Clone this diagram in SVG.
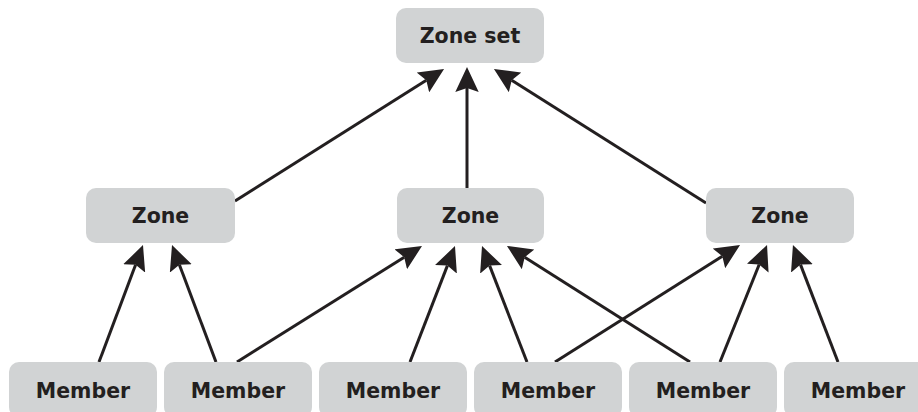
<svg xmlns="http://www.w3.org/2000/svg" width="918" height="412" viewBox="0 0 918 412">
<style>
.box{fill:#d1d3d4}
.lbl{font-family:"DejaVu Sans",Verdana,sans-serif;font-weight:bold;font-size:20.5px;fill:#231f20;text-anchor:middle;dominant-baseline:central}
.edge{stroke:#231f20;stroke-width:3;fill:none}
</style>
<defs>
<marker id="ah" markerUnits="userSpaceOnUse" markerWidth="26" markerHeight="24" viewBox="0 0 26 24" refX="4" refY="12" orient="auto">
<path d="M0,0.3 L25,12 L0,23.7 L4,12 Z" fill="#231f20"/>
</marker>
</defs>
<rect width="918" height="412" fill="#fff"/>
<g id="connectors" class="edge" marker-end="url(#ah)">
<line x1="99" y1="362" x2="135.6" y2="264.7"/>
<line x1="216" y1="362" x2="179.4" y2="264.7"/>
<line x1="237" y1="362" x2="404.2" y2="257.2"/>
<line x1="410" y1="362" x2="447.4" y2="265.6"/>
<line x1="527" y1="362" x2="489.6" y2="265.6"/>
<line x1="690" y1="362" x2="524.7" y2="257.2"/>
<line x1="555" y1="362" x2="722.3" y2="256.2"/>
<line x1="720" y1="362" x2="759.2" y2="264.5"/>
<line x1="838" y1="362" x2="800.5" y2="264.6"/>
<line x1="235" y1="201" x2="426.3" y2="80.3"/>
<line x1="467" y1="188" x2="467" y2="88"/>
<line x1="706" y1="203" x2="511.7" y2="80.2"/>
</g>
<g id="zoneset"><rect class="box" x="396" y="8" width="148" height="55" rx="10"/><text class="lbl" x="470" y="36">Zone set</text></g>
<g id="zone1"><rect class="box" x="86" y="188" width="149" height="55" rx="10"/><text class="lbl" x="160.5" y="216">Zone</text></g>
<g id="zone2"><rect class="box" x="397" y="188" width="147" height="55" rx="10"/><text class="lbl" x="470.5" y="216">Zone</text></g>
<g id="zone3"><rect class="box" x="706" y="188" width="148" height="55" rx="10"/><text class="lbl" x="780" y="216">Zone</text></g>
<g id="member1"><rect class="box" x="9" y="362" width="148" height="55" rx="10"/><text class="lbl" x="83" y="391">Member</text></g>
<g id="member2"><rect class="box" x="164" y="362" width="148" height="55" rx="10"/><text class="lbl" x="238" y="391">Member</text></g>
<g id="member3"><rect class="box" x="319" y="362" width="148" height="55" rx="10"/><text class="lbl" x="393" y="391">Member</text></g>
<g id="member4"><rect class="box" x="474" y="362" width="148" height="55" rx="10"/><text class="lbl" x="548" y="391">Member</text></g>
<g id="member5"><rect class="box" x="629" y="362" width="148" height="55" rx="10"/><text class="lbl" x="703" y="391">Member</text></g>
<g id="member6"><rect class="box" x="784" y="362" width="148" height="55" rx="10"/><text class="lbl" x="858" y="391">Member</text></g>
</svg>
